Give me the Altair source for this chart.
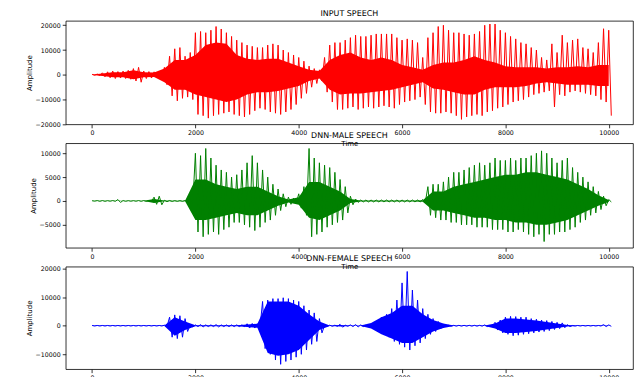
import altair as alt
import pandas as pd

# sample positions (every 100 samples for peaks, every 200 for the dense core)
T_PEAK = list(range(0, 10001, 100))
T_CORE = list(range(0, 10001, 200))
X_TICKS = [0, 2000, 4000, 6000, 8000, 10000]

# ---------------- INPUT SPEECH (red) ----------------
in_peak_hi = [
    200, 300, 800, 1200, 1500, 1300, 1500, 1800, 2500, 3000,
    1500, 1300, 1200, 1500, 3000, 7500, 10500, 11000, 7500, 9000,
    17000, 17500, 17000, 18000, 19500, 18500, 17000, 15500, 14000, 13000,
    12000, 11500, 11000, 11000, 12000, 12500, 12000, 10000, 9000, 8000,
    7000, 5500, 3500, 2500, 2000, 7000, 12000, 13000, 13000, 14000,
    15000, 16000, 15500, 15500, 16000, 16500, 16500, 16500, 16500, 15000,
    14000, 14500, 14000, 13000, 7000, 15000, 17000, 19500, 20000, 18000,
    17000, 17000, 16500, 16000, 16500, 17500, 20000, 20500, 20500, 18000,
    17000, 15500, 14500, 13000, 12500, 11000, 10000, 7000, 6000, 12500,
    9000, 16000, 13000, 14000, 14500, 11000, 10500, 9000, 13000, 18600,
    18000,
]
in_peak_lo = [
    -200, -300, -800, -1200, -1500, -1300, -1500, -1800, -2500, -3000,
    -1500, -1300, -1200, -1500, -4000, -8500, -10500, -9500, -9000, -10000,
    -16000, -16500, -17500, -16500, -16000, -15500, -15000, -16000, -16500, -17000,
    -16000, -14500, -13500, -14000, -15000, -15500, -16000, -15000, -14000, -12000,
    -9500, -7500, -5000, -3500, -2500, -7000, -11000, -14000, -14000, -13500,
    -13000, -14000, -13500, -13000, -13500, -13000, -12500, -13000, -13500, -12000,
    -11000, -10500, -10000, -9000, -12000, -15000, -15500, -15500, -15000, -15500,
    -16500, -18000, -17000, -16500, -16000, -16500, -15000, -14500, -13500, -13000,
    -12000, -11000, -10500, -10000, -9000, -8000, -7500, -7000, -6500, -13000,
    -8000, -8500, -7000, -6500, -7000, -7500, -8000, -8500, -10000, -11000,
    -16500,
]
in_core_hi = [
    100, 500, 1000, 1000, 1800, 1000, 900, 2500, 6000, 6000,
    8000, 12000, 13000, 12500, 8000, 6500, 6000, 6500, 6500, 5000,
    3500, 2000, 1500, 6000, 8000, 9000, 7000, 6000, 7000, 6000,
    4000, 3000, 2000, 4000, 5000, 5000, 6000, 7500, 6000, 5000,
    3500, 3000, 3000, 3000, 2500, 3000, 3000, 3500, 3000, 4000,
    4000,
]
in_core_lo = [
    -100, -500, -1000, -1000, -1800, -1000, -900, -3000, -6000, -6000,
    -8000, -9000, -10000, -11000, -10000, -8000, -7000, -7000, -6500, -5500,
    -4500, -2500, -1500, -6000, -8000, -7500, -7500, -7000, -6500, -6000,
    -5000, -4000, -3000, -5500, -6000, -7000, -8000, -8000, -6000, -5000,
    -5000, -5000, -4500, -3500, -3000, -3500, -4000, -4000, -4000, -4500,
    -4500,
]

# ---------------- DNN-MALE SPEECH (green) ----------------
male_peak_hi = [
    50, 80, 80, 60, 80, 300, 80, 60, 60, 80,
    80, 100, 800, 1000, 150, 100, 80, 80, 100, 600,
    10000, 9500, 11000, 9000, 7500, 6500, 6000, 5000, 5500, 6500,
    8000, 9500, 8000, 6500, 5000, 3500, 2500, 1500, 800, 600,
    1500, 3000, 11000, 9000, 8000, 7500, 7000, 6000, 4500, 3000,
    1000, 400, 200, 200, 200, 200, 200, 200, 200, 200,
    200, 200, 200, 200, 300, 3000, 3500, 3500, 4000, 5000,
    6000, 6000, 6500, 7000, 7500, 8000, 7500, 8000, 9000, 8500,
    8500, 9000, 8500, 9000, 9000, 9500, 10000, 10500, 10000, 9000,
    8000, 8500, 9000, 7000, 6000, 5000, 4000, 3000, 2000, 1000,
    300,
]
male_peak_lo = [
    -50, -80, -80, -60, -80, -300, -80, -60, -60, -80,
    -80, -100, -700, -800, -150, -100, -80, -80, -100, -500,
    -6500, -7500, -7000, -6500, -7000, -6000, -5500, -4500, -4500, -5000,
    -5500, -6200, -5500, -4500, -4000, -3000, -2000, -1200, -700, -600,
    -1500, -3000, -7500, -7000, -6500, -5500, -5000, -4500, -4000, -2500,
    -800, -300, -200, -200, -200, -200, -200, -200, -200, -200,
    -200, -200, -200, -200, -300, -3000, -3500, -4000, -4000, -4500,
    -4500, -5000, -5000, -5000, -5500, -5500, -5500, -6000, -6000, -6000,
    -6500, -6500, -6000, -6500, -7000, -7500, -7000, -8500, -7000, -7000,
    -6500, -6500, -6000, -5500, -4500, -4000, -3000, -2500, -1800, -1000,
    -200,
]
male_core_hi = [
    30, 30, 30, 30, 30, 30, 400, 80, 50, 50,
    4500, 4500, 3500, 3000, 2500, 3000, 3000, 2000, 1000, 300,
    800, 4000, 4000, 3000, 2000, 400, 100, 100, 100, 100,
    100, 100, 150, 2000, 2000, 3000, 3500, 4000, 4500, 5000,
    5500, 5500, 6000, 6000, 5500, 5000, 4500, 3500, 2500, 1200,
    200,
]
male_core_lo = [
    -30, -30, -30, -30, -30, -30, -400, -80, -50, -50,
    -4000, -4000, -3500, -3000, -2500, -3000, -3000, -2000, -1000, -300,
    -800, -3500, -4000, -3000, -2000, -400, -100, -100, -100, -100,
    -100, -100, -150, -2000, -2000, -2500, -3000, -3500, -3500, -4000,
    -4000, -4500, -4500, -5000, -5000, -4500, -4000, -3000, -2000, -1000,
    -200,
]

# ---------------- DNN-FEMALE SPEECH (blue) ----------------
female_peak_hi = [
    100, 100, 100, 100, 100, 100, 100, 100, 100, 100,
    100, 100, 100, 100, 200, 3000, 3800, 3500, 2500, 400,
    300, 400, 300, 300, 400, 300, 300, 300, 300, 300,
    700, 800, 700, 8500, 9000, 9500, 9500, 9800, 9500, 9000,
    8500, 7000, 5500, 4500, 2500, 200, 200, 200, 500, 200,
    300, 400, 300, 200, 200, 1500, 3000, 4000, 6000, 9000,
    15000, 19000, 12500, 9000, 6000, 4000, 2500, 1500, 500, 150,
    150, 150, 150, 150, 150, 150, 300, 150, 1200, 2000,
    3000, 3300, 3200, 3000, 3000, 2500, 2300, 2000, 1800, 1500,
    1200, 1000, 400, 100, 100, 100, 100, 100, 100, 400,
    300,
]
female_peak_lo = [
    -100, -100, -100, -100, -100, -100, -100, -100, -100, -100,
    -100, -100, -100, -100, -300, -4000, -4500, -4000, -2000, -400,
    -300, -400, -300, -300, -400, -300, -300, -300, -300, -300,
    -800, -800, -700, -8000, -10000, -12000, -13500, -12500, -12000, -11000,
    -10000, -8500, -6500, -5500, -2500, -200, -200, -200, -500, -200,
    -300, -400, -300, -200, -200, -1500, -3000, -4000, -5500, -6500,
    -7500, -8500, -7000, -6000, -4500, -3000, -2000, -1000, -300, -150,
    -150, -150, -150, -150, -150, -150, -300, -150, -1500, -2500,
    -3000, -3500, -3300, -3000, -2800, -2500, -2200, -2000, -1700, -1300,
    -1000, -700, -300, -100, -100, -100, -100, -100, -100, -300,
    -200,
]
female_core_hi = [
    50, 50, 50, 50, 50, 50, 50, 100, 3000, 1500,
    200, 200, 200, 200, 200, 400, 700, 8500, 8500, 8500,
    7000, 4000, 1500, 100, 300, 100, 100, 1000, 3000, 4500,
    7000, 7000, 4000, 2000, 800, 100, 100, 100, 100, 800,
    2500, 2500, 2200, 1800, 1300, 800, 300, 50, 50, 50,
    100,
]
female_core_lo = [
    -50, -50, -50, -50, -50, -50, -50, -100, -3500, -1500,
    -200, -200, -200, -200, -200, -400, -700, -9500, -10500, -10000,
    -8500, -5000, -1500, -100, -300, -100, -100, -1000, -3000, -4500,
    -6000, -6000, -4000, -2000, -800, -100, -100, -100, -100, -1000,
    -2500, -2500, -2200, -1800, -1300, -800, -300, -50, -50, -50,
    -100,
]

FONT = "DejaVu Sans"


def panel(title, color, peak_hi, peak_lo, core_hi, core_lo, y_domain, y_ticks, height):
    rows = []
    for t, hi, lo in zip(T_PEAK, peak_hi, peak_lo):
        rows.append({"t": t, "v": hi})
        rows.append({"t": t + 50, "v": lo})
    zig = pd.DataFrame(rows)
    core = pd.DataFrame({"t": T_CORE, "hi": core_hi, "lo": core_lo})

    xenc = alt.X(
        "t:Q",
        scale=alt.Scale(domain=[-510, 10470], nice=False, zero=False),
        axis=alt.Axis(values=X_TICKS, format="d", title="Time"),
    )
    yscale = alt.Scale(domain=y_domain, nice=False, zero=False)
    yaxis = alt.Axis(values=y_ticks, format="d", title="Amplitude")

    area = alt.Chart(core).mark_area(color=color, opacity=1, clip=True).encode(
        x=xenc,
        y=alt.Y("lo:Q", scale=yscale, axis=yaxis),
        y2="hi:Q",
    )
    line = alt.Chart(zig).mark_line(color=color, strokeWidth=1, clip=True).encode(
        x=xenc,
        y=alt.Y("v:Q", scale=yscale, axis=yaxis),
    )
    return alt.layer(area, line).properties(
        width=570,
        height=height,
        title=alt.TitleParams(title, fontSize=8, font=FONT, fontWeight="normal",
                              color="black", offset=3, anchor="middle"),
    )


p1 = panel("INPUT SPEECH", "#ff0000", in_peak_hi, in_peak_lo, in_core_hi, in_core_lo,
           [-20000, 21800], [-20000, -10000, 0, 10000, 20000], 104)
p2 = panel("DNN-MALE SPEECH", "#008000", male_peak_hi, male_peak_lo, male_core_hi, male_core_lo,
           [-9800, 12100], [-5000, 0, 5000, 10000], 105)
p3 = panel("DNN-FEMALE SPEECH", "#0000ff", female_peak_hi, female_peak_lo, female_core_hi, female_core_lo,
           [-15200, 20700], [-10000, 0, 10000, 20000], 103)

chart = alt.vconcat(p1, p2, p3, spacing=19, bounds="flush").properties(
    padding={"left": 16, "top": 0, "right": 0, "bottom": -16},
    background="white",
).configure_view(
    stroke="black", strokeWidth=0.8,
).configure_axis(
    labelFont=FONT, titleFont=FONT, labelFontSize=6.3, titleFontSize=7,
    labelColor="black", titleColor="black", tickColor="black",
    tickSize=3.5, tickWidth=0.8, domain=False, grid=False,
    labelPadding=2, titlePadding=3, titleFontWeight="normal",
)

chart.save("out.html", embed_options={"renderer": "svg", "actions": False})
